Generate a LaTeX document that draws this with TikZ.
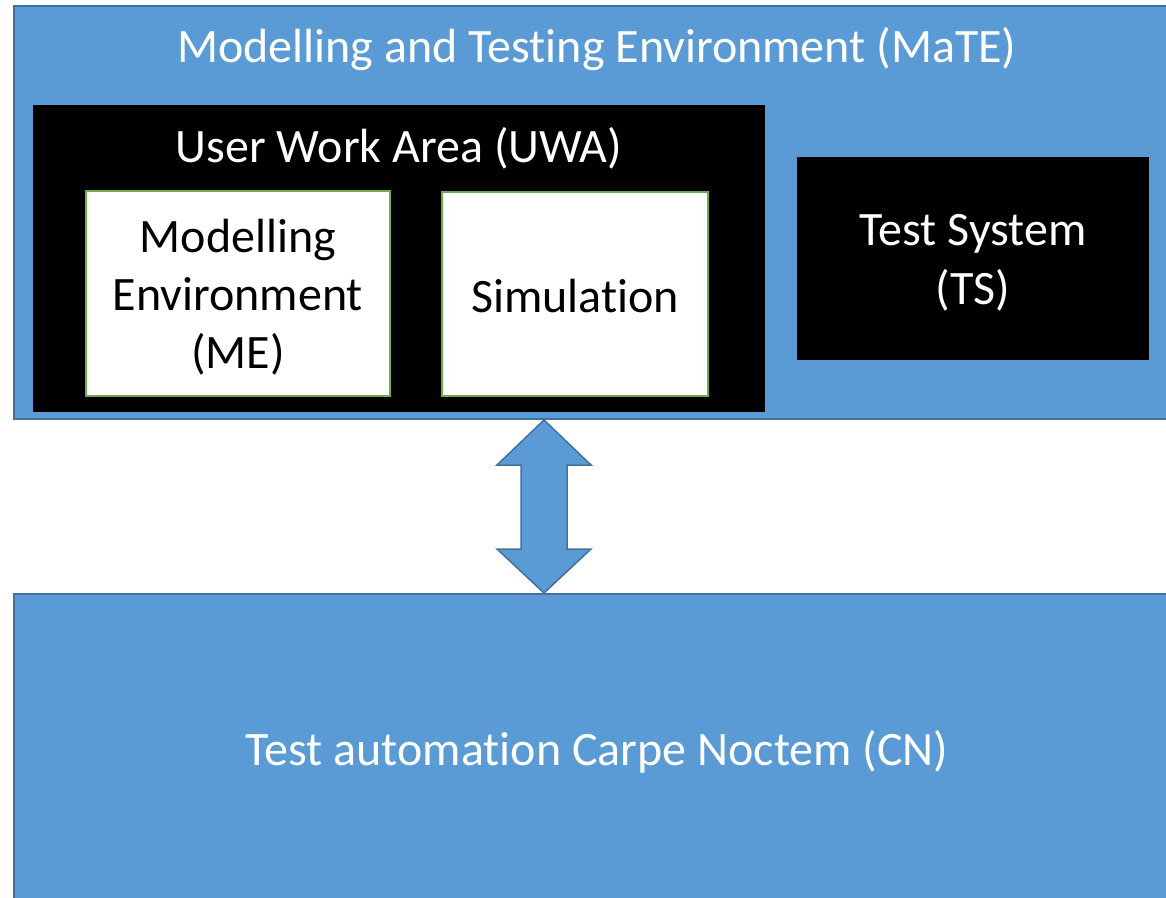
\documentclass[tikz,border=0pt]{standalone}
\usepackage{fontspec}
\setmainfont{Carlito}[Ligatures={NoCommon}]
\usetikzlibrary{calc}
\definecolor{officeblue}{HTML}{5B9BD5}
\definecolor{officeedge}{HTML}{41719C}
\definecolor{officegreen}{HTML}{70AD47}
\begin{document}
\begin{tikzpicture}[x=1pt,y=-1pt,
  every node/.style={inner sep=0pt, outer sep=0pt, font=\fontsize{48}{58}\selectfont},
  panel/.style={draw=officeedge, line width=2pt, fill=officeblue, anchor=north west},
  darkbox/.style={fill=black, anchor=north west},
  whitebox/.style={draw=officegreen, line width=2pt, fill=white, anchor=north west},
  caption/.style={text=white, anchor=center, align=center},
  blockarrow/.style={draw=officeedge, line width=1.5pt, fill=officeblue, line join=miter}
]
\useasboundingbox (0,0) rectangle (1166,897);
\clip (0,0) rectangle (1166,897);
\fill[white] (0,0) rectangle (1166,897);

% Modelling and Testing Environment
\node[panel, minimum width=1166pt, minimum height=413pt] (mate) at (14,6) {};
\node[caption] (matetitle) at (597,49) {Modelling and Testing Environment (MaTE)};

% User Work Area with its two parts
\node[darkbox, minimum width=732pt, minimum height=307pt] (uwa) at (33,105) {};
\node[caption] (uwatitle) at (399,148) {User Work Area (UWA)};
\node[whitebox, minimum width=304pt, minimum height=205pt] (me) at (86,191) {};
\node[caption, text=black] (metext) at ($(me.center)+(0,4)$) {Modelling\\Environment\\(ME)};
\node[whitebox, minimum width=266pt, minimum height=204pt] (sim) at (442,192) {};
\node[caption, text=black] (simtext) at ($(sim.center)+(0,2)$) {Simulation};

% Test System
\node[darkbox, minimum width=352pt, minimum height=203pt] (ts) at (797,157) {};
\node[caption, font=\fontsize{48}{59}\selectfont] (tstext) at ($(ts.center)+(0,4)$) {Test System\\(TS)};

% Carpe Noctem test automation
\node[panel, minimum width=1166pt, minimum height=312pt] (cn) at (14,594) {};
\node[caption] (cntitle) at (597,752) {Test automation Carpe Noctem (CN)};

% Two-way block arrow between MaTE and CN
\coordinate (atop) at ($(mate.south west)+(530,1)$);
\coordinate (abot) at ($(cn.north west)+(530,-1)$);
\draw[blockarrow] (atop) -- ++(-47,45) -- ++(24,0) -- ($(abot)+(-23,-44)$)
  -- ++(-24,0) -- (abot) -- ++(47,-44) -- ++(-24,0) -- ($(atop)+(23,45)$)
  -- ++(24,0) -- cycle;
\end{tikzpicture}
\end{document}
